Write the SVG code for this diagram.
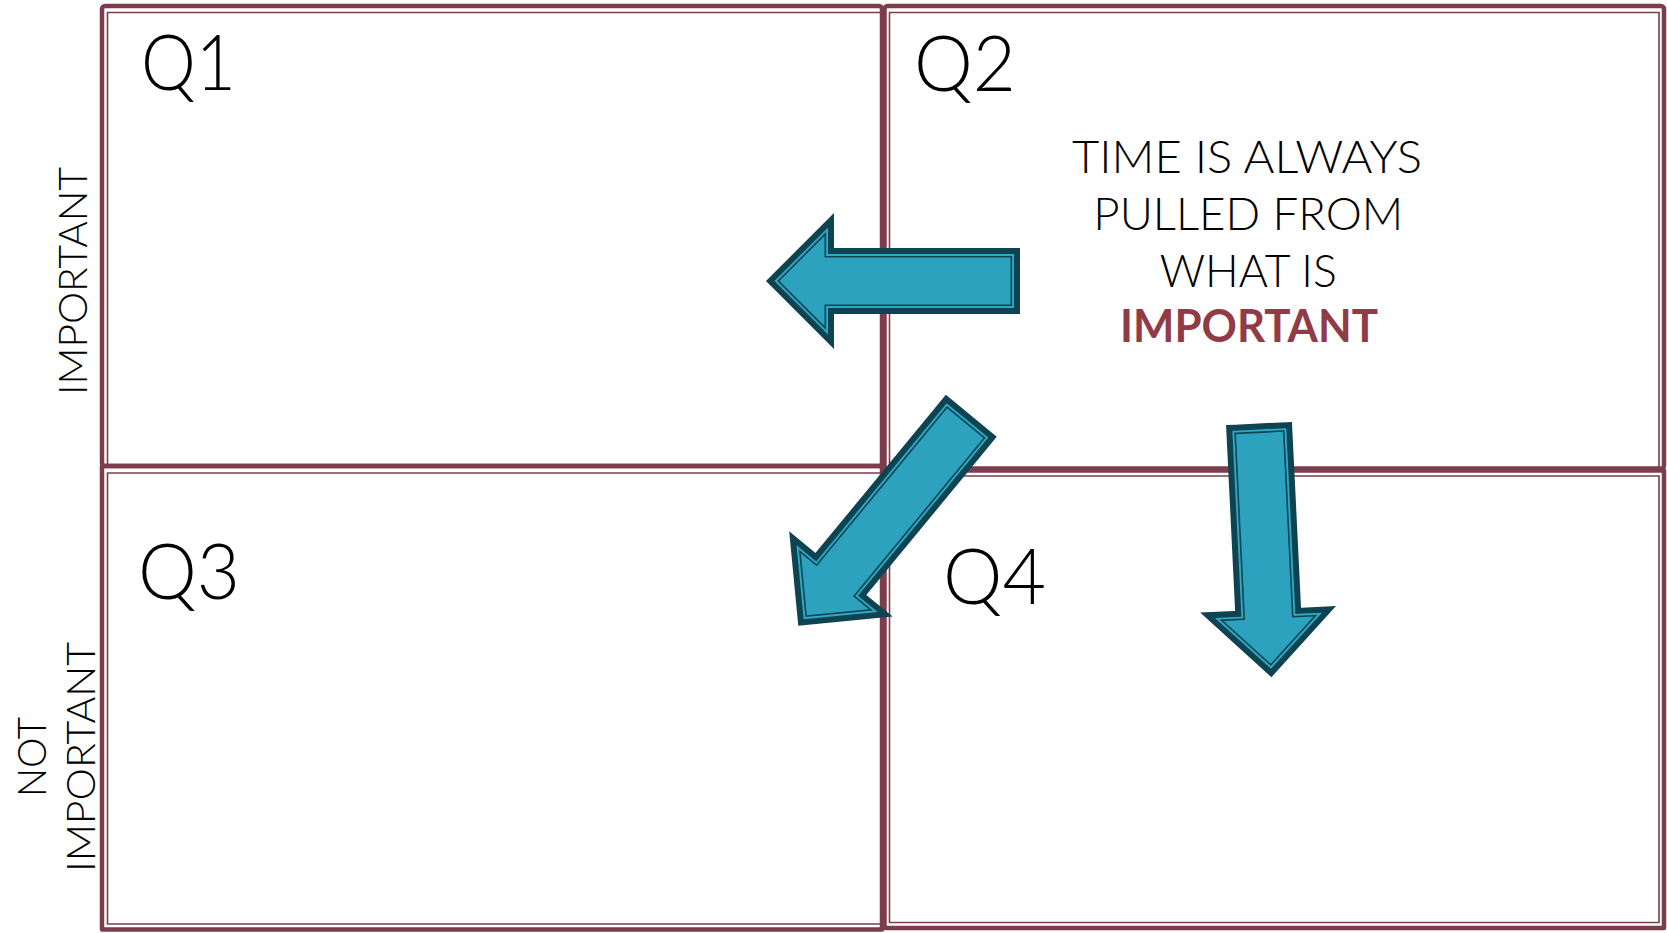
<svg xmlns="http://www.w3.org/2000/svg" xmlns:xlink="http://www.w3.org/1999/xlink" width="1667" height="933" viewBox="0 0 1667 933">
<style>
.outer{fill:none;stroke:#7C3D4D;stroke-width:4.5;stroke-linejoin:round}
.inner{fill:none;stroke:#7C3D4D;stroke-width:1.6}
.lbl{font-family:Lato,"Liberation Sans",sans-serif;font-weight:300;fill:#000}
.q{font-size:77px}
.side{font-size:40px}
.msg{font-size:45px;text-anchor:middle}
.imp{font-weight:700;fill:#913B47}
.a1{fill:none;stroke:#0E4452;stroke-width:19;stroke-linejoin:miter}
.a2{fill:none;stroke:#2FA8C4;stroke-width:7;stroke-linejoin:miter}
.a3{fill:none;stroke:#0E4452;stroke-width:3.2;stroke-linejoin:miter}
.a4{fill:#2CA2BF;stroke:none}
</style>
<defs>
<path id="arrS" d="M -23.5,9.5 L 23.5,9.5 L 23.5,195.5 L 45.1,195.5 L 0,240.6 L -45.1,195.5 L -23.5,195.5 Z"/>
<path id="arrL" d="M -23.5,9.5 L 23.5,9.5 L 23.5,214.5 L 44.1,214.5 L 0,258.6 L -44.1,214.5 L -23.5,214.5 Z"/>
</defs>
<rect x="0" y="0" width="1667" height="933" fill="#fff"/>
<g id="q1">
<rect class="outer" x="102" y="6" width="780" height="460" rx="3"/>
<path class="inner" d="M 882,12.5 H 107.5 V 466"/>
<text class="lbl q" x="141" y="89.5" textLength="95" lengthAdjust="spacingAndGlyphs">Q1</text>
</g>
<g id="q3">
<rect class="outer" x="102" y="466" width="780" height="463.5"/>
<path class="inner" d="M 882,473 H 107.5 V 924 H 882"/>
<text class="lbl q" x="138" y="599" textLength="102" lengthAdjust="spacingAndGlyphs">Q3</text>
</g>
<g id="q2">
<rect class="outer" x="884.5" y="6" width="779.5" height="462.5" rx="3"/>
<path class="inner" d="M 889.5,467 V 12.5 H 1659 V 467"/>
<text class="lbl q" x="914" y="91" textLength="102" lengthAdjust="spacingAndGlyphs">Q2</text>
</g>
<g id="q4">
<rect class="outer" x="884.5" y="470.5" width="779.5" height="457.5"/>
<path class="inner" d="M 889.5,476 H 1659 V 922.5 H 889.5 Z"/>
<text class="lbl q" x="943" y="604" textLength="103" lengthAdjust="spacingAndGlyphs">Q4</text>
</g>
<g id="axis-labels">
<text class="lbl side" transform="translate(87,281) rotate(-90)" text-anchor="middle" textLength="228" lengthAdjust="spacingAndGlyphs">IMPORTANT</text>
<text class="lbl side" transform="translate(46,757) rotate(-90)" text-anchor="middle" textLength="80" lengthAdjust="spacingAndGlyphs">NOT</text>
<text class="lbl side" transform="translate(95,757) rotate(-90)" text-anchor="middle" textLength="230" lengthAdjust="spacingAndGlyphs">IMPORTANT</text>
</g>
<g id="message">
<text class="lbl msg" x="1247" y="172.7" textLength="350" lengthAdjust="spacingAndGlyphs">TIME IS ALWAYS</text>
<text class="lbl msg" x="1248.3" y="230" textLength="310" lengthAdjust="spacingAndGlyphs">PULLED FROM</text>
<text class="lbl msg" x="1248.3" y="286.7" textLength="177" lengthAdjust="spacingAndGlyphs">WHAT IS</text>
<text class="lbl msg imp" x="1249" y="341.7" textLength="258" lengthAdjust="spacingAndGlyphs">IMPORTANT</text>
</g>
<g id="connectors">
<g transform="translate(1020,281) rotate(90)">
<use href="#arrS" class="a1"/><use href="#arrS" class="a2"/><use href="#arrS" class="a3"/><use href="#arrS" class="a4"/>
</g>
<g transform="translate(971.3,415.8) rotate(39.5)">
<use href="#arrL" class="a1"/><use href="#arrL" class="a2"/><use href="#arrL" class="a3"/><use href="#arrL" class="a4"/>
</g>
<g transform="translate(1259,423.5) rotate(-2.8)">
<use href="#arrS" class="a1"/><use href="#arrS" class="a2"/><use href="#arrS" class="a3"/><use href="#arrS" class="a4"/>
</g>
</g>
</svg>
